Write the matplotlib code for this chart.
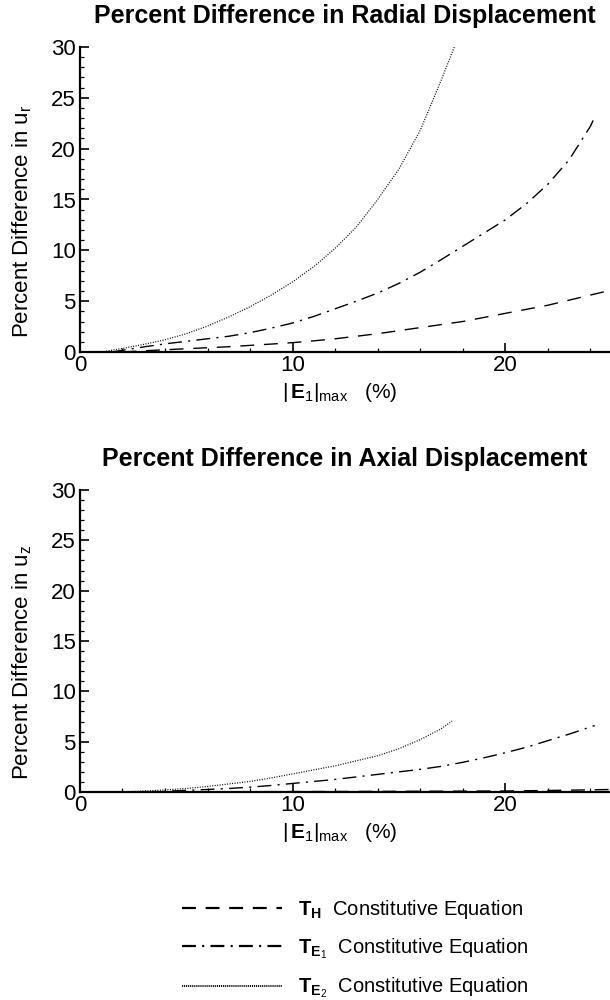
import matplotlib
matplotlib.use("Agg")
import matplotlib.pyplot as plt
from matplotlib.ticker import MultipleLocator, FixedLocator
from matplotlib.lines import Line2D

plt.rcParams['font.family'] = ['Liberation Sans', 'DejaVu Sans']
plt.rcParams['mathtext.fontset'] = 'custom'
plt.rcParams['mathtext.rm'] = 'Liberation Sans'
plt.rcParams['mathtext.it'] = 'Liberation Sans'
plt.rcParams['mathtext.bf'] = 'Liberation Sans:bold'
plt.rcParams['lines.scale_dashes'] = False

# ---- radial displacement: percent difference vs |E1|max (%) ----
th_r_x = [2, 3, 4, 5, 6, 7, 8, 9, 10, 11, 12, 13, 14, 15, 16, 17, 18, 19, 20,
          21, 22, 23, 24, 25, 26]
th_r_y = [0, 0.12, 0.22, 0.32, 0.42, 0.52, 0.65, 0.78, 0.92, 1.1, 1.3, 1.55,
          1.8, 2.1, 2.4, 2.7, 3.0, 3.4, 3.8, 4.2, 4.6, 5.1, 5.6, 6.1, 6.6]

te1_r_x = [1.5, 3, 4, 5, 6, 7, 8, 9, 10, 11, 12, 13, 14, 15, 16, 17, 18, 19,
           20, 21, 22, 23, 24, 24.2]
te1_r_y = [0, 0.5, 0.8, 1.05, 1.3, 1.55, 1.9, 2.35, 2.85, 3.5, 4.25, 5.0, 5.8,
           6.75, 7.85, 9.1, 10.4, 11.7, 13.0, 14.6, 16.5, 18.9, 22.2, 23.1]

te2_r_x = [1, 2, 3, 4, 5, 6, 7, 8, 9, 10, 11, 12, 13, 14, 15, 16, 16.5, 17,
           17.6]
te2_r_y = [0, 0.35, 0.75, 1.2, 1.8, 2.55, 3.45, 4.45, 5.6, 6.9, 8.4, 10.2,
           12.3, 15.0, 18.0, 21.8, 24.3, 26.8, 30.0]

# ---- axial displacement ----
th_z_x = [2, 6, 10, 14, 17, 20, 23, 25, 26]
th_z_y = [0, 0.02, 0.04, 0.06, 0.08, 0.1, 0.18, 0.25, 0.28]

te1_z_x = [3, 4, 5, 6, 7, 8, 9, 10, 11, 12, 13, 14, 15, 16, 17, 18, 19, 20,
           21, 22, 23, 24.2]
te1_z_y = [0, 0.08, 0.16, 0.25, 0.35, 0.48, 0.65, 0.85, 1.05, 1.25, 1.5, 1.75,
           2.0, 2.25, 2.55, 2.95, 3.4, 3.9, 4.45, 5.1, 5.75, 6.6]

te2_z_x = [2, 3, 4, 5, 6, 7, 8, 9, 10, 11, 12, 13, 14, 15, 16, 17, 17.5]
te2_z_y = [0, 0.1, 0.2, 0.35, 0.55, 0.8, 1.05, 1.4, 1.8, 2.2, 2.6, 3.1, 3.6,
           4.3, 5.2, 6.3, 7.05]

x_major_ticks = [0, 10, 20]
titles = ["Percent Difference in Radial Displacement",
          "Percent Difference in Axial Displacement"]
ylabels = [r"Percent Difference in u$_{\mathrm{r}}$",
           r"Percent Difference in u$_{\mathrm{z}}$"]
xlabel = r"$|\,\mathbf{E}_{\mathrm{1}}|_{\mathrm{max}}$   (%)"
legend_labels = [r"$\mathbf{T}_{\mathbf{H}}$  Constitutive Equation",
                 r"$\mathbf{T}_{\mathbf{E}_{1}}$  Constitutive Equation",
                 r"$\mathbf{T}_{\mathbf{E}_{2}}$  Constitutive Equation"]

DASHED = (0, (10, 7))
DASHDOT = (0, (10, 4.5, 1.5, 4.5))
DOTTED = (0, (0.7, 1.1))

fig = plt.figure(figsize=(6.1, 10), dpi=100)

# the x range runs past the right edge of the page
AX_W = 30 * 21.27 / 610
axes = [fig.add_axes([0.131, 0.648, AX_W, 0.305]),
        fig.add_axes([0.131, 0.208, AX_W, 0.302])]
ax_px_h = [305, 302]

series = [
    [(th_r_x, th_r_y), (te1_r_x, te1_r_y), (te2_r_x, te2_r_y)],
    [(th_z_x, th_z_y), (te1_z_x, te1_z_y), (te2_z_x, te2_z_y)],
]
styles = [(DASHED, 1.0), (DASHDOT, 1.0), (DOTTED, 0.9)]

for k, ax in enumerate(axes):
    for (xs, ys), (ls, lw) in zip(series[k], styles):
        ax.plot(xs, ys, color='black', linestyle=ls, linewidth=lw,
                solid_capstyle='butt')
    ax.set_xlim(0, 30)
    ax.set_ylim(0, 30)
    ax.xaxis.set_major_locator(FixedLocator(x_major_ticks))
    ax.xaxis.set_minor_locator(MultipleLocator(2))
    ax.yaxis.set_major_locator(MultipleLocator(5))
    ax.yaxis.set_minor_locator(MultipleLocator(1))
    for side in ('top', 'right'):
        ax.spines[side].set_visible(False)
    for side in ('left', 'bottom'):
        ax.spines[side].set_linewidth(1.6)
    ax.tick_params(which='major', direction='in', length=6.5, width=1.2,
                   labelsize=16, pad=3)
    ax.tick_params(which='minor', direction='in', length=3.2, width=0.9)
    ax.tick_params(axis='x', which='major', pad=2)

    h = ax_px_h[k]
    ax.text((345 - 80) / 638, 1 + 31 / h, titles[k], transform=ax.transAxes,
            ha='center', va='center', fontsize=18, fontweight='bold')

    ax.set_ylabel(ylabels[k], fontsize=16)
    ax.yaxis.label.set_va('center')
    ax.yaxis.set_label_coords((22 - 80) / 638, 0.43)

    ax.set_xlabel(xlabel, fontsize=15)
    ax.xaxis.label.set_va('center')
    ax.xaxis.set_label_coords((340 - 80) / 638, -40 / h)

# legend with dashed / dash-dot / dotted samples
leg_handles = [Line2D([], [], color='black', linestyle=DASHED, linewidth=1.6),
               Line2D([], [], color='black', linestyle=DASHDOT, linewidth=1.6),
               Line2D([], [], color='black', linestyle=(0, (0.8, 0.6)),
                      linewidth=1.3)]
fig.legend(leg_handles, legend_labels, loc='upper left',
           bbox_to_anchor=(182 / 610, 1 - 898 / 1000), frameon=False,
           fontsize=14.5, handlelength=4.95, handletextpad=0.8,
           labelspacing=0.75, borderpad=0, borderaxespad=0)

fig.savefig("out.png", dpi=100)
